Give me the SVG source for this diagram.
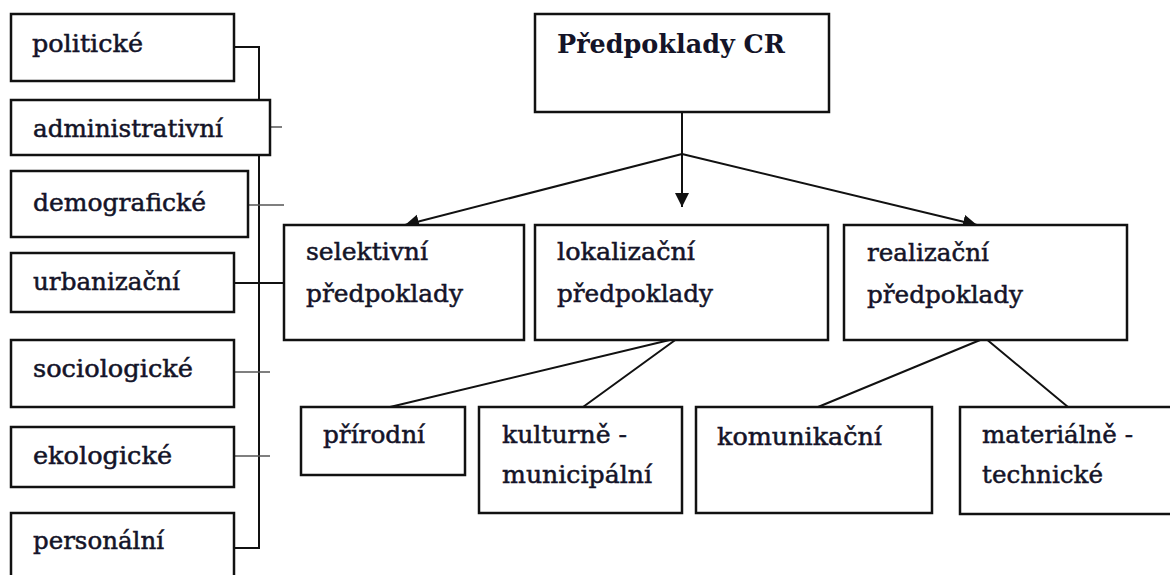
<svg xmlns="http://www.w3.org/2000/svg" width="1170" height="575" viewBox="0 0 1170 575">
<style>
.box{fill:#fff;stroke:#111;stroke-width:2.5}
.t{font-family:"DejaVu Serif","Liberation Serif",serif;font-size:24px;fill:#141428;stroke:#141428;stroke-width:0.5}
.tb{font-family:"DejaVu Serif","Liberation Serif",serif;font-size:26px;font-weight:bold;fill:#141428}
.ln{stroke:#111;stroke-width:2;fill:none}
.tk{stroke:#555;stroke-width:1.5;fill:none}
</style>
<defs>
<marker id="ah" markerUnits="userSpaceOnUse" markerWidth="16" markerHeight="16" refX="14" refY="7" orient="auto">
<path d="M0,0 L14,7 L0,14 Z" fill="#111"/>
</marker>
</defs>
<rect width="1170" height="575" fill="#fff"/>
<g id="connectors">
<path class="ln" d="M234,47 H259 V548 H234"/>
<path class="tk" d="M267,127 H282"/>
<path class="tk" d="M248,205 H284"/>
<path class="ln" d="M234,283 H284"/>
<path class="tk" d="M234,372 H270"/>
<path class="tk" d="M234,456 H270"/>
<path class="ln" d="M682,110 V207" marker-end="url(#ah)"/>
<path class="ln" d="M682,154 L405,225" marker-end="url(#ah)"/>
<path class="ln" d="M682,154 L977,225" marker-end="url(#ah)"/>
<path class="ln" d="M678,338 L390,407 M678,338 L583,407"/>
<path class="ln" d="M985,338 L818,407 M985,338 L1068,407"/>
</g>
<g id="politicke"><rect class="box" x="11" y="14" width="223" height="67"/><text class="t" x="32" y="52" textLength="111" lengthAdjust="spacingAndGlyphs">politické</text></g>
<g id="administrativni"><rect class="box" x="11" y="100" width="259" height="55"/><text class="t" x="33" y="137" textLength="190" lengthAdjust="spacingAndGlyphs">administrativní</text></g>
<g id="demograficke"><rect class="box" x="11" y="171" width="237" height="66"/><text class="t" x="33" y="211" textLength="173" lengthAdjust="spacingAndGlyphs">demografické</text></g>
<g id="urbanizacni"><rect class="box" x="11" y="253" width="223" height="59"/><text class="t" x="33" y="290" textLength="147" lengthAdjust="spacingAndGlyphs">urbanizační</text></g>
<g id="sociologicke"><rect class="box" x="11" y="340" width="223" height="67"/><text class="t" x="33" y="377" textLength="160" lengthAdjust="spacingAndGlyphs">sociologické</text></g>
<g id="ekologicke"><rect class="box" x="11" y="427" width="223" height="60"/><text class="t" x="33" y="464" textLength="139" lengthAdjust="spacingAndGlyphs">ekologické</text></g>
<g id="personalni"><rect class="box" x="11" y="513" width="223" height="70"/><text class="t" x="33" y="549" textLength="131" lengthAdjust="spacingAndGlyphs">personální</text></g>
<g id="predpoklady-cr"><rect class="box" x="535" y="14" width="294" height="98"/><text class="tb" x="557" y="53" textLength="228" lengthAdjust="spacingAndGlyphs">Předpoklady CR</text></g>
<g id="selektivni"><rect class="box" x="284" y="225" width="240" height="115"/><text class="t" x="306" y="260" textLength="122" lengthAdjust="spacingAndGlyphs">selektivní</text><text class="t" x="306" y="302" textLength="157" lengthAdjust="spacingAndGlyphs">předpoklady</text></g>
<g id="lokalizacni"><rect class="box" x="535" y="225" width="293" height="115"/><text class="t" x="557" y="260" textLength="138" lengthAdjust="spacingAndGlyphs">lokalizační</text><text class="t" x="557" y="302" textLength="156" lengthAdjust="spacingAndGlyphs">předpoklady</text></g>
<g id="realizacni"><rect class="box" x="844" y="225" width="283" height="115"/><text class="t" x="867" y="261" textLength="122" lengthAdjust="spacingAndGlyphs">realizační</text><text class="t" x="867" y="303" textLength="156" lengthAdjust="spacingAndGlyphs">předpoklady</text></g>
<g id="prirodni"><rect class="box" x="301" y="407" width="164" height="68"/><text class="t" x="323" y="443" textLength="102" lengthAdjust="spacingAndGlyphs">přírodní</text></g>
<g id="kulturne"><rect class="box" x="479" y="407" width="203" height="106"/><text class="t" x="502" y="443" textLength="125" lengthAdjust="spacingAndGlyphs">kulturně -</text><text class="t" x="502" y="483" textLength="150" lengthAdjust="spacingAndGlyphs">municipální</text></g>
<g id="komunikacni"><rect class="box" x="696" y="407" width="236" height="106"/><text class="t" x="717" y="445" textLength="165" lengthAdjust="spacingAndGlyphs">komunikační</text></g>
<g id="materialne"><rect class="box" x="960" y="407" width="215" height="107"/><text class="t" x="982" y="443" textLength="151" lengthAdjust="spacingAndGlyphs">materiálně -</text><text class="t" x="982" y="483" textLength="121" lengthAdjust="spacingAndGlyphs">technické</text></g>
</svg>
